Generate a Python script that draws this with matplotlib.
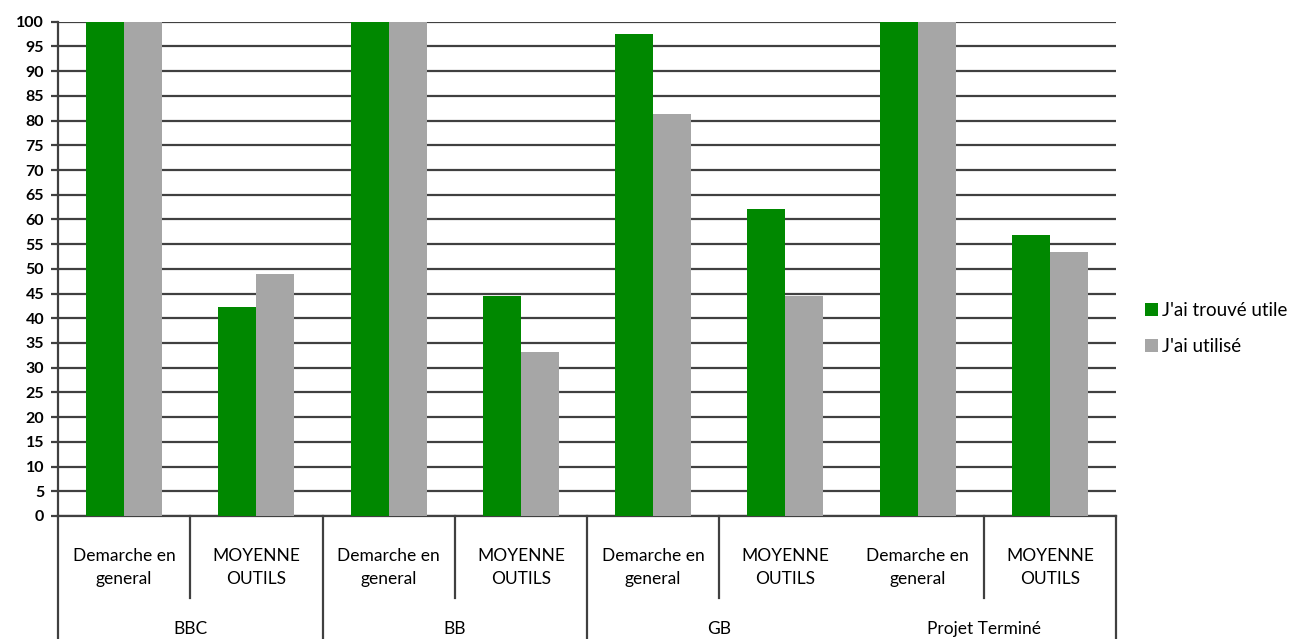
import matplotlib
matplotlib.use("Agg")
import matplotlib.pyplot as plt
import matplotlib.transforms as mtransforms
import numpy as np

plt.rcParams['font.family'] = ['Lato', 'DejaVu Sans']

groups = ["BBC", "BB", "GB", "Projet Terminé"]
subcats = ["Demarche en\ngeneral", "MOYENNE\nOUTILS"]
series_names = ["J'ai trouvé utile", "J'ai utilisé"]
trouve_utile = [100, 42.3, 100, 44.5, 97.6, 62.1, 100, 56.9]
utilise = [100, 49.0, 100, 33.2, 81.3, 44.5, 100, 53.5]
yticks = list(range(0, 101, 5))

green = "#008800"
gray = "#a6a6a6"
dark = "#404040"

fig = plt.figure(figsize=(13.01, 6.39), dpi=100)
ax = fig.add_axes([0.0446, 0.1925, 0.8132, 0.7735])

n = len(trouve_utile)
x = np.arange(n) + 0.5
w = 0.288
ax.bar(x - w / 2, trouve_utile, width=w, color=green, label=series_names[0], zorder=3)
ax.bar(x + w / 2, utilise, width=w, color=gray, label=series_names[1], zorder=3)

ax.set_xlim(0, n)
ax.set_ylim(0, 100)
ax.set_yticks(yticks)
ax.set_yticklabels([str(t) for t in yticks], fontsize=11.5, fontweight='bold')
ax.yaxis.grid(True, color=dark, linewidth=1.6, zorder=0)
ax.set_axisbelow(True)
ax.tick_params(axis='y', length=5, width=1.6, color=dark, pad=5)
ax.set_xticks([])

for s in ['top', 'right']:
    ax.spines[s].set_visible(False)
for s in ['left', 'bottom']:
    ax.spines[s].set_color(dark)
    ax.spines[s].set_linewidth(1.6)

trans = mtransforms.blended_transform_factory(ax.transData, ax.transAxes)
# sub-category labels
for i, xi in enumerate(x):
    ax.text(xi, -0.104, subcats[i % 2], transform=trans, ha='center', va='center',
            fontsize=12.5, linespacing=1.55)
# group labels
for g, name in enumerate(groups):
    ax.text(2 * g + 1, -0.228, name, transform=trans, ha='center', va='center', fontsize=12.5)

# separators
for b in [1, 3, 5, 7]:
    ax.plot([b, b], [0, -0.165], transform=trans, color=dark, lw=1.6, clip_on=False)
for b in [0, 2, 4, 8]:
    ax.plot([b, b], [0, -0.26], transform=trans, color=dark, lw=1.6, clip_on=False)

ax.legend(loc='center left', bbox_to_anchor=(1.027, 0.379), frameon=False, fontsize=13.5,
          handlelength=0.7, handleheight=0.7, handletextpad=0.25, labelspacing=1.0,
          borderaxespad=0, borderpad=0)

fig.savefig("out.png", dpi=100)
